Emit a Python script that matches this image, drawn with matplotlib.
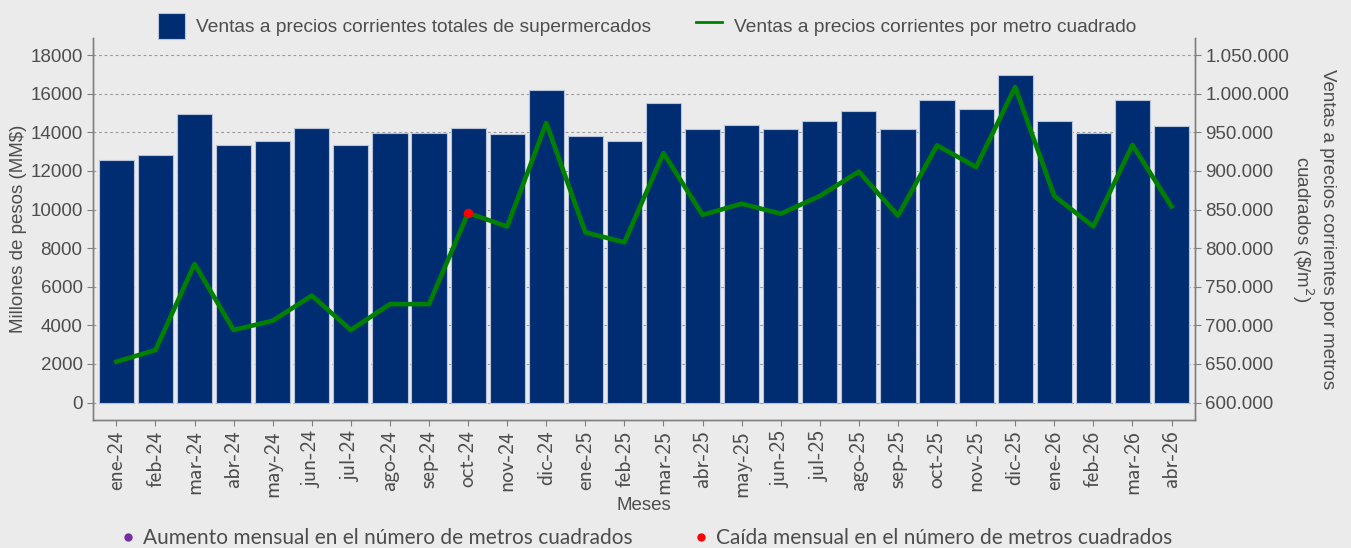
import matplotlib
matplotlib.use('Agg')
import matplotlib.pyplot as plt
import numpy as np
from matplotlib.lines import Line2D
from matplotlib.patches import Patch

meses = ['ene-24', 'feb-24', 'mar-24', 'abr-24', 'may-24', 'jun-24', 'jul-24',
         'ago-24', 'sep-24', 'oct-24', 'nov-24', 'dic-24', 'ene-25', 'feb-25',
         'mar-25', 'abr-25', 'may-25', 'jun-25', 'jul-25', 'ago-25', 'sep-25',
         'oct-25', 'nov-25', 'dic-25', 'ene-26', 'feb-26', 'mar-26', 'abr-26']
ventas = [12560, 12830, 14960, 13320, 13560, 14200, 13340, 13970, 13970, 14220,
          13910, 16170, 13800, 13560, 15490, 14180, 14390, 14180, 14600, 15110,
          14160, 15680, 15220, 16940, 14580, 13960, 15680, 14340]
ventas_m2 = [653000, 668000, 779500, 694000, 706000, 738500, 694000, 727500,
             727500, 845500, 828000, 962000, 820500, 807500, 923000, 843000,
             857500, 844500, 867500, 899000, 842000, 933000, 905000, 1008500,
             867500, 828000, 933500, 854000]
caida = ['oct-24']
aumento = []

plt.rcParams['font.family'] = ['Liberation Sans', 'DejaVu Sans']

bg = '#EBEBEB'
azul = '#002D72'
verde = '#008000'
gris = '#7F7F7F'
txt = '#4D4D4D'

fig = plt.figure(figsize=(13.51, 5.48), dpi=100, facecolor=bg)
ax = fig.add_axes([0.0688, 0.2336, 0.8157, 0.697])
ax.set_facecolor(bg)
x = np.arange(len(meses))

ax.bar(x, ventas, width=0.9, color=azul, edgecolor='#B8C4DC', linewidth=0.8, zorder=2)
ax.set_xlim(-0.6, len(meses) - 0.4)
ax.set_ylim(-900, 18880)
ax.set_yticks(np.arange(0, 18001, 2000))
ax.yaxis.grid(True, linestyle=(0, (2.5, 2.5)), color='#9A9A9A', linewidth=0.8, zorder=0)
ax.set_axisbelow(True)

ax2 = ax.twinx()
lo, hi = ax.get_ylim()
ax2.set_ylim(600000 + 25 * lo, 600000 + 25 * hi)
ax2.set_yticks(np.arange(600000, 1050001, 50000))
ax2.set_yticklabels([f'{v:,.0f}'.replace(',', '.') for v in np.arange(600000, 1050001, 50000)])
ax2.plot(x, ventas_m2, color=verde, linewidth=3.3, zorder=3)
idx_c = [meses.index(m) for m in caida]
ax2.scatter(idx_c, [ventas_m2[i] for i in idx_c], color='red', s=35, zorder=4)
idx_a = [meses.index(m) for m in aumento]
if idx_a:
    ax2.scatter(idx_a, [ventas_m2[i] for i in idx_a], color='#7030A0', s=35, zorder=4)

for a in (ax, ax2):
    a.spines['top'].set_visible(False)
    for s in ('left', 'right', 'bottom'):
        a.spines[s].set_color(gris)
        a.spines[s].set_linewidth(1.0)
    a.tick_params(colors=gris, labelcolor=txt, length=4, labelsize=13.5)

ax.set_xticks(x)
ax.set_xticklabels(meses, rotation=90, fontsize=15.5, family=['cmss10', 'DejaVu Sans'])
ax.set_xlabel('Meses', fontsize=13.5, color=txt, labelpad=0)
ax.set_ylabel('Millones de pesos (MM$)', fontsize=13.5, color=txt, labelpad=2)
ax2.set_ylabel('Ventas a precios corrientes por metros\ncuadrados (\\$/m$^2$)',
               fontsize=13.5, color=txt, rotation=-90, labelpad=34, linespacing=1.2)

h1 = [Patch(facecolor=azul, edgecolor='#B8C4DC', linewidth=0.8),
      Line2D([0], [0], color=verde, linewidth=2)]
fig.legend(h1, ['Ventas a precios corrientes totales de supermercados',
                'Ventas a precios corrientes por metro cuadrado'],
           loc='upper center', bbox_to_anchor=(0.479, 1.008), ncol=2, frameon=False,
           fontsize=13.8, labelcolor=txt, handlelength=1.4, handleheight=1.7,
           columnspacing=2.3, handletextpad=0.6)

h2 = [Line2D([0], [0], marker='o', color='none', markerfacecolor='#7030A0',
             markeredgecolor='none', markersize=6),
      Line2D([0], [0], marker='o', color='none', markerfacecolor='red',
             markeredgecolor='none', markersize=6)]
fig.legend(h2, ['Aumento mensual en el número de metros cuadrados',
                'Caída mensual en el número de metros cuadrados'],
           loc='lower center', bbox_to_anchor=(0.479, -0.035), ncol=2, frameon=False,
           labelcolor=txt, handlelength=0.6, handletextpad=0.4,
           columnspacing=3.0, prop={'family': 'Lato', 'size': 15})

fig.savefig('out.png', dpi=100, facecolor=bg)
